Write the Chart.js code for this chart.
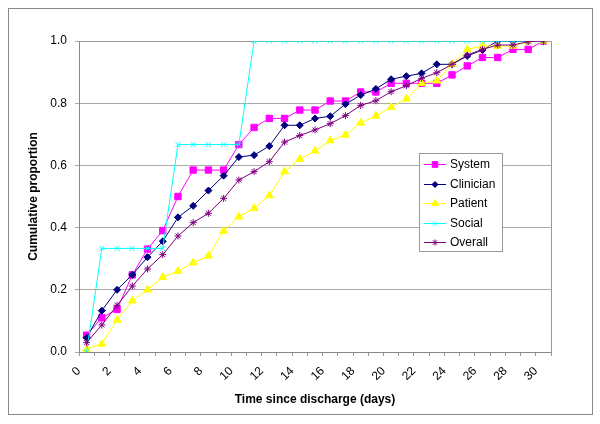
<!DOCTYPE html>
<html>
<head>
<meta charset="utf-8">
<script src="https://cdn.jsdelivr.net/npm/chart.js@4/dist/chart.umd.min.js"></script>
<style>
  html, body { margin: 0; padding: 0; background: #fff; }
  canvas { display: block; }
</style>
</head>
<body>
<canvas id="myChart" width="600" height="424"></canvas>
<script>
// days after discharge (one point per day, drawn at the middle of the day)
const days = [0, 1, 2, 3, 4, 5, 6, 7, 8, 9, 10, 11, 12, 13, 14, 15, 16, 17, 18, 19, 20, 21, 22, 23, 24, 25, 26, 27, 28, 29, 30];
const yTicks = [0, 0.2, 0.4, 0.6, 0.8, 1.0];

const system    = [0.054, 0.11, 0.137, 0.248, 0.331, 0.39, 0.5, 0.585, 0.585, 0.585, 0.667, 0.722, 0.751, 0.751, 0.778, 0.778, 0.807, 0.807, 0.836, 0.836, 0.864, 0.864, 0.864, 0.864, 0.891, 0.92, 0.947, 0.947, 0.973, 0.973, 1.0];
const clinician = [0.046, 0.133, 0.2, 0.248, 0.305, 0.356, 0.433, 0.47, 0.519, 0.567, 0.627, 0.633, 0.662, 0.729, 0.729, 0.751, 0.758, 0.797, 0.826, 0.846, 0.877, 0.887, 0.896, 0.925, 0.925, 0.952, 0.971, 1.0, 1.0, 1.0, 1.0];
const patient   = [0.01, 0.026, 0.103, 0.165, 0.2, 0.24, 0.26, 0.287, 0.309, 0.389, 0.435, 0.462, 0.503, 0.58, 0.62, 0.647, 0.68, 0.698, 0.737, 0.759, 0.787, 0.814, 0.864, 0.872, 0.925, 0.973, 0.984, 0.984, 0.984, 0.998, 1.0];
const social    = [0, 0.333, 0.333, 0.333, 0.333, 0.333, 0.667, 0.667, 0.667, 0.667, 0.667, 1, 1, 1, 1, 1, 1, 1, 1, 1, 1, 1, 1, 1, 1, 1, 1, 1, 1, 1, 1];
const overall   = [0.03, 0.087, 0.15, 0.212, 0.267, 0.313, 0.373, 0.416, 0.446, 0.494, 0.553, 0.58, 0.612, 0.675, 0.696, 0.714, 0.734, 0.76, 0.793, 0.808, 0.837, 0.856, 0.88, 0.898, 0.925, 0.955, 0.973, 0.987, 0.987, 0.998, 1.0];

function pts(values) {
  return values.map((v, i) => ({ x: days[i] + 0.5, y: v }));
}

function serie(label, values, color, style, radius, order) {
  return {
    label: label,
    data: pts(values),
    borderColor: color,
    backgroundColor: color,
    borderWidth: 1,
    pointStyle: style,
    pointRadius: radius,
    pointBorderWidth: 1,
    pointBorderColor: color,
    pointBackgroundColor: color,
    tension: 0,
    order: order
  };
}

const dados = {
  datasets: [
    serie('System', system, '#ff00ff', 'rect', 4.5, 5),
    serie('Clinician', clinician, '#000080', 'rectRot', 3.5, 4),
    serie('Patient', patient, '#ffff00', 'triangle', 4.5, 3),
    serie('Social', social, '#00ffff', 'crossRot', 3.5, 2),
    serie('Overall', overall, '#800080', 'star', 3.5, 1)
  ]
};

// white page, outer frame and plot area frame
const moldura = {
  id: 'moldura',
  beforeDraw(chart) {
    const ctx = chart.ctx;
    ctx.save();
    ctx.fillStyle = '#fff';
    ctx.fillRect(0, 0, chart.width, chart.height);
    ctx.strokeStyle = '#888';
    ctx.lineWidth = 1;
    ctx.strokeRect(8.5, 8.5, 584, 406);
    ctx.restore();
  },
  beforeDatasetsDraw(chart) {
    const a = chart.chartArea;
    const ctx = chart.ctx;
    ctx.save();
    ctx.strokeStyle = '#999';
    ctx.lineWidth = 1;
    ctx.beginPath();
    ctx.moveTo(Math.round(a.left) + 0.5, Math.round(a.top) + 0.5);
    ctx.lineTo(Math.round(a.right) + 0.5, Math.round(a.top) + 0.5);
    ctx.lineTo(Math.round(a.right) + 0.5, Math.round(a.bottom) + 0.5);
    ctx.stroke();
    ctx.restore();
  }
};

// legend box inside the plot, like the original
const legenda = {
  id: 'legenda',
  afterDraw(chart) {
    const ctx = chart.ctx;
    const x0 = 419, y0 = 153, w = 83, h = 98;
    ctx.save();
    ctx.fillStyle = '#fff';
    ctx.fillRect(x0, y0, w, h);
    ctx.strokeStyle = '#999';
    ctx.lineWidth = 1;
    ctx.strokeRect(x0 + 0.5, y0 + 0.5, w, h);
    chart.data.datasets.forEach((ds, i) => {
      const y = y0 + 11 + i * 19.5;
      ctx.strokeStyle = ds.borderColor;
      ctx.fillStyle = ds.borderColor;
      ctx.lineWidth = 1;
      ctx.beginPath();
      ctx.moveTo(424, Math.round(y) + 0.5);
      ctx.lineTo(446, Math.round(y) + 0.5);
      ctx.stroke();
      if (Chart.helpers && Chart.helpers.drawPoint) {
        Chart.helpers.drawPoint(ctx, {
          pointStyle: ds.pointStyle,
          radius: ds.pointRadius - 0.5,
          rotation: 0,
          borderWidth: 1
        }, 435, Math.round(y) + 0.5);
      }
      ctx.fillStyle = '#000';
      ctx.font = '12px "Liberation Sans", Arial, sans-serif';
      ctx.textBaseline = 'middle';
      ctx.textAlign = 'left';
      ctx.fillText(ds.label, 450, y + 1);
    });
    ctx.restore();
  }
};

Chart.defaults.font.family = '"Liberation Sans", Arial, sans-serif';
Chart.defaults.font.size = 12;
Chart.defaults.color = '#000';

const config = {
  type: 'line',
  data: dados,
  plugins: [moldura, legenda],
  options: {
    responsive: false,
    animation: false,
    devicePixelRatio: 1,
    layout: {
      padding: { left: 0, right: 49, top: 41, bottom: 0 }
    },
    scales: {
      x: {
        type: 'linear',
        min: 0,
        max: 31,
        afterFit(s) { s.height = 72; },
        grid: {
          drawOnChartArea: false,
          drawTicks: true,
          tickLength: 4,
          color: '#999'
        },
        border: { color: '#888' },
        ticks: {
          stepSize: 1,
          autoSkip: false,
          minRotation: 45,
          maxRotation: 45,
          padding: 8,
          callback: function(v) {
            return (v % 2 === 0 && v <= 30) ? String(v) : '';
          }
        },
        title: {
          display: true,
          text: 'Time since discharge (days)',
          font: { weight: 'bold', size: 12 },
          padding: { top: 0, bottom: 17 }
        }
      },
      y: {
        min: 0,
        max: 1,
        afterFit(s) { s.width = 79; },
        afterBuildTicks(s) { s.ticks = yTicks.map(v => ({ value: v })); },
        grid: {
          color: '#aaa',
          drawTicks: true,
          tickLength: 4
        },
        border: { color: '#888' },
        ticks: {
          padding: 8,
          callback: function(v) { return v.toFixed(1); }
        },
        title: {
          display: true,
          text: 'Cumulative proportion',
          font: { weight: 'bold', size: 12 },
          padding: { top: 26, bottom: 0 }
        }
      }
    },
    plugins: {
      legend: { display: false },
      tooltip: { enabled: false }
    }
  }
};

window.onload = function() {
  const ctx = document.getElementById('myChart').getContext('2d');
  new Chart(ctx, config);
};
</script>
</body>
</html>
